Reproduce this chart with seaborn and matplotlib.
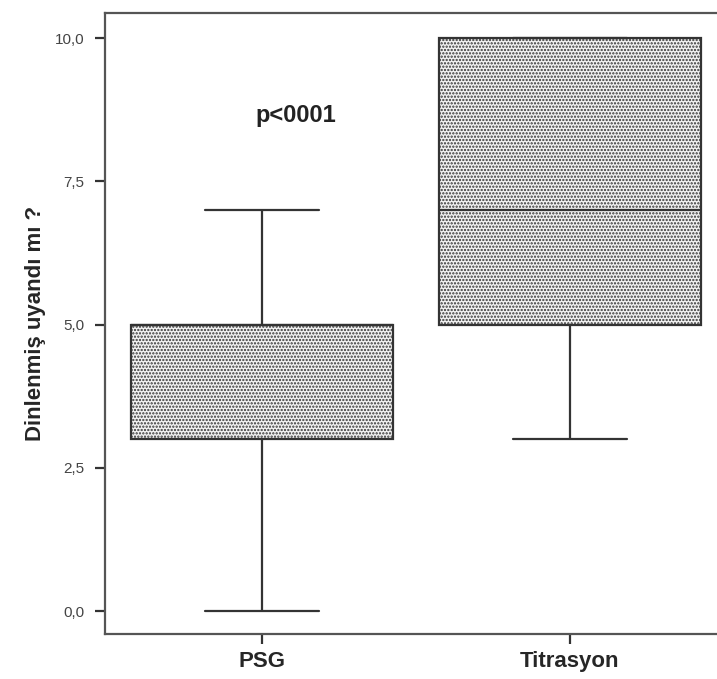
import matplotlib
matplotlib.use("Agg")
import matplotlib.pyplot as plt
import matplotlib.ticker as mticker
import seaborn as sns
import pandas as pd

# Raw scores read back from the box plot (quartiles / whiskers match the picture)
groups = ["PSG", "Titrasyon"]
psg_scores = [0, 3, 5, 5, 7]
titrasyon_scores = [3, 5, 7, 10, 10]
y_ticks = [0.0, 2.5, 5.0, 7.5, 10.0]
y_label = "Dinlenmiş uyandı mı ?"
p_text = "p<0001"

df = pd.DataFrame({
    "grup": [groups[0]] * len(psg_scores) + [groups[1]] * len(titrasyon_scores),
    "skor": psg_scores + titrasyon_scores,
})

sns.set_style("ticks")
plt.rcParams["font.family"] = ["Liberation Sans Narrow", "Liberation Sans", "DejaVu Sans"]
plt.rcParams["hatch.color"] = "#8a8a8a"
plt.rcParams["hatch.linewidth"] = 1.1

fig = plt.figure(figsize=(7.17, 6.79), dpi=100)
ax = fig.add_axes([0.1464, 0.0663, 0.8675, 0.9146])

line_kw = dict(color="#333333", linewidth=1.6)
sns.boxplot(
    data=df, x="grup", y="skor", order=groups, ax=ax,
    width=0.85, whis=1.5, fill=True, color="white",
    linecolor="#333333", linewidth=1.6,
    boxprops=dict(facecolor="#f2f2f2", hatch=".....", edgecolor="#333333"),
    whiskerprops=line_kw, capprops=line_kw, medianprops=line_kw,
    capwidths=0.37, showfliers=False,
)

ax.set_xlim(-0.51, 1.51)
ax.set_ylim(-0.4, 10.44)
ax.yaxis.set_major_locator(mticker.FixedLocator(y_ticks))
ax.yaxis.set_major_formatter(mticker.FuncFormatter(lambda v, _: f"{v:.1f}".replace(".", ",")))

ax.tick_params(axis="y", direction="out", length=7, width=1.6, color="#333333",
               labelsize=11, labelcolor="#444444", pad=8)
ax.tick_params(axis="x", direction="out", length=7, width=1.6, color="#333333",
               labelsize=16, pad=5)
for lab in ax.get_xticklabels():
    lab.set_fontweight("bold")

ax.set_xlabel("")
ax.set_ylabel(y_label, fontsize=16, fontweight="bold", labelpad=6)

for side in ["left", "bottom", "top"]:
    ax.spines[side].set_visible(True)
    ax.spines[side].set_color("#555555")
    ax.spines[side].set_linewidth(1.6)
ax.spines["right"].set_visible(False)

ax.text(0.11, 8.65, p_text, fontsize=17, fontweight="bold", ha="center", va="center",
        color="#222222")

fig.savefig("out.png", dpi=100)
